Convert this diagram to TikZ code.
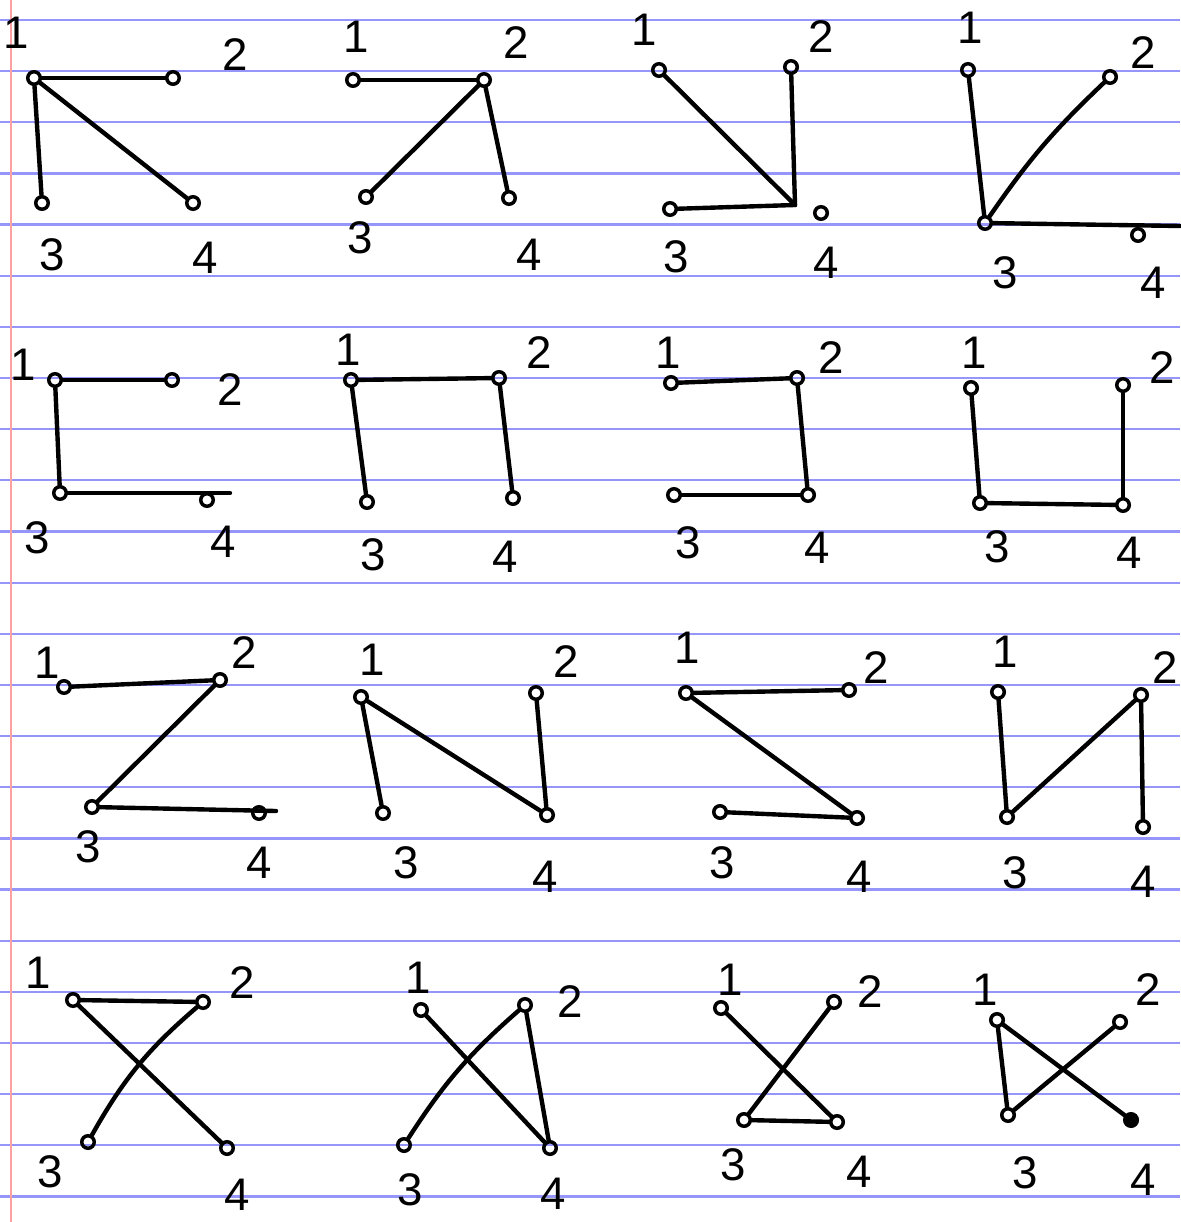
\documentclass[tikz,border=0pt]{standalone}
\usepackage{fontspec}
\setmainfont{Liberation Sans}
\definecolor{ruleblue}{RGB}{150,150,250}
\definecolor{marginred}{RGB}{255,160,160}
\begin{document}
\begin{tikzpicture}[
  x=0.02cm, y=-0.02cm,
  vert/.style={draw, circle, line width=2pt, inner sep=0pt, minimum size=0.25cm},
  num/.style={font=\fontsize{26}{28}\selectfont, inner sep=0pt},
  edge/.style={line width=2.5pt, line cap=round},
  rule/.style={draw=ruleblue, line width=1.3pt}
]
\fill[white] (0,0) rectangle (1180,1222);
\useasboundingbox (0,0) rectangle (1180,1222);
\foreach \k in {0,...,23}
  \draw[rule] (0,{20+51.15*\k}) -- (1180,{20+51.15*\k});
\draw[marginred, line width=1.3pt] (11,0) -- (11,1222);

\node[vert] (a1) at (34,78) {};
\node[vert] (a2) at (173,78) {};
\node[vert] (a3) at (42,203) {};
\node[vert] (a4) at (193,203) {};
\node[num] (la1) at (16,33) {1};
\node[num] (la2) at (235,55) {2};
\node[num] (la3) at (52,255) {3};
\node[num] (la4) at (205,258) {4};
\draw[edge] (a1) -- (a2);
\draw[edge] (a1) -- (a3);
\draw[edge] (a1) -- (a4);

\node[vert] (b1) at (353,80) {};
\node[vert] (b2) at (484,80) {};
\node[vert] (b3) at (366,197) {};
\node[vert] (b4) at (509,198) {};
\node[num] (lb1) at (356,37) {1};
\node[num] (lb2) at (516,43) {2};
\node[num] (lb3) at (360,238) {3};
\node[num] (lb4) at (529,255) {4};
\draw[edge] (b1) -- (b2);
\draw[edge] (b2) -- (b3);
\draw[edge] (b2) -- (b4);

\node[vert] (c1) at (659,70) {};
\node[vert] (c2) at (791,67) {};
\node[vert] (c3) at (670,209) {};
\node[vert] (c4) at (821,213) {};
\coordinate (cj) at (795,205);
\node[num] (lc1) at (644,30) {1};
\node[num] (lc2) at (821,37) {2};
\node[num] (lc3) at (676,257) {3};
\node[num] (lc4) at (826,263) {4};
\draw[edge] (c1) -- (cj);
\draw[edge] (c2) -- (cj);
\draw[edge] (c3) -- (cj);

\node[vert] (d1) at (968,70) {};
\node[vert] (d2) at (1110,77) {};
\node[vert] (d3) at (985,223) {};
\node[vert] (d4) at (1138,235) {};
\coordinate (dr) at (1180,226);
\node[num] (ld1) at (970,28) {1};
\node[num] (ld2) at (1143,53) {2};
\node[num] (ld3) at (1005,273) {3};
\node[num] (ld4) at (1153,283) {4};
\draw[edge] (d1) -- (d3);
\draw[edge] (d2) to[bend right=6] (d3);
\draw[edge] (d3) -- (dr);

\node[vert] (e1) at (55,380) {};
\node[vert] (e2) at (172,380) {};
\node[vert] (e3) at (60,493) {};
\node[vert] (e4) at (207,500) {};
\coordinate (ex) at (230,493);
\node[num] (le1) at (23,365) {1};
\node[num] (le2) at (230,390) {2};
\node[num] (le3) at (37,538) {3};
\node[num] (le4) at (223,542) {4};
\draw[edge] (e1) -- (e2);
\draw[edge] (e1) -- (e3);
\draw[edge] (e3) -- (ex);

\node[vert] (f1) at (351,380) {};
\node[vert] (f2) at (499,378) {};
\node[vert] (f3) at (367,502) {};
\node[vert] (f4) at (513,498) {};
\node[num] (lf1) at (348,350) {1};
\node[num] (lf2) at (539,353) {2};
\node[num] (lf3) at (373,555) {3};
\node[num] (lf4) at (505,557) {4};
\draw[edge] (f1) -- (f2);
\draw[edge] (f1) -- (f3);
\draw[edge] (f2) -- (f4);

\node[vert] (g1) at (671,383) {};
\node[vert] (g2) at (797,378) {};
\node[vert] (g3) at (674,495) {};
\node[vert] (g4) at (808,495) {};
\node[num] (lg1) at (668,353) {1};
\node[num] (lg2) at (831,358) {2};
\node[num] (lg3) at (688,543) {3};
\node[num] (lg4) at (817,548) {4};
\draw[edge] (g1) -- (g2);
\draw[edge] (g2) -- (g4);
\draw[edge] (g3) -- (g4);

\node[vert] (h1) at (971,388) {};
\node[vert] (h2) at (1123,385) {};
\node[vert] (h3) at (980,503) {};
\node[vert] (h4) at (1123,505) {};
\node[num] (lh1) at (974,353) {1};
\node[num] (lh2) at (1162,368) {2};
\node[num] (lh3) at (997,547) {3};
\node[num] (lh4) at (1129,553) {4};
\draw[edge] (h1) -- (h3);
\draw[edge] (h3) -- (h4);
\draw[edge] (h2) -- (h4);

\node[vert] (i1) at (64,687) {};
\node[vert] (i2) at (220,680) {};
\node[vert] (i3) at (92,807) {};
\node[vert] (i4) at (259,813) {};
\coordinate (ix) at (276,811);
\node[num] (li1) at (47,663) {1};
\node[num] (li2) at (244,653) {2};
\node[num] (li3) at (88,847) {3};
\node[num] (li4) at (259,863) {4};
\draw[edge] (i1) -- (i2);
\draw[edge] (i2) -- (i3);
\draw[edge] (i3) -- (ix);

\node[vert] (j1) at (361,697) {};
\node[vert] (j2) at (536,693) {};
\node[vert] (j3) at (383,813) {};
\node[vert] (j4) at (547,815) {};
\node[num] (lj1) at (372,660) {1};
\node[num] (lj2) at (566,662) {2};
\node[num] (lj3) at (406,863) {3};
\node[num] (lj4) at (545,877) {4};
\draw[edge] (j1) -- (j3);
\draw[edge] (j1) -- (j4);
\draw[edge] (j2) -- (j4);

\node[vert] (k1) at (686,693) {};
\node[vert] (k2) at (849,690) {};
\node[vert] (k3) at (720,812) {};
\node[vert] (k4) at (857,818) {};
\node[num] (lk1) at (687,648) {1};
\node[num] (lk2) at (876,668) {2};
\node[num] (lk3) at (722,863) {3};
\node[num] (lk4) at (859,877) {4};
\draw[edge] (k1) -- (k2);
\draw[edge] (k1) -- (k4);
\draw[edge] (k3) -- (k4);

\node[vert] (l1) at (998,692) {};
\node[vert] (l2) at (1141,695) {};
\node[vert] (l3) at (1007,817) {};
\node[vert] (l4) at (1143,827) {};
\node[num] (ll1) at (1005,652) {1};
\node[num] (ll2) at (1165,668) {2};
\node[num] (ll3) at (1015,873) {3};
\node[num] (ll4) at (1143,882) {4};
\draw[edge] (l1) -- (l3);
\draw[edge] (l2) -- (l3);
\draw[edge] (l2) -- (l4);

\node[vert] (m1) at (73,1000) {};
\node[vert] (m2) at (203,1002) {};
\node[vert] (m3) at (88,1142) {};
\node[vert] (m4) at (227,1148) {};
\node[num] (lm1) at (38,973) {1};
\node[num] (lm2) at (242,983) {2};
\node[num] (lm3) at (50,1172) {3};
\node[num] (lm4) at (237,1195) {4};
\draw[edge] (m1) -- (m2);
\draw[edge] (m1) -- (m4);
\draw[edge] (m2) to[bend right=10] (m3);

\node[vert] (n1) at (421,1010) {};
\node[vert] (n2) at (525,1005) {};
\node[vert] (n3) at (404,1145) {};
\node[vert] (n4) at (550,1148) {};
\node[num] (ln1) at (418,978) {1};
\node[num] (ln2) at (570,1002) {2};
\node[num] (ln3) at (410,1190) {3};
\node[num] (ln4) at (553,1194) {4};
\draw[edge] (n1) -- (n4);
\draw[edge] (n2) to[bend right=8] (n3);
\draw[edge] (n2) -- (n4);

\node[vert] (o1) at (721,1008) {};
\node[vert] (o2) at (834,1002) {};
\node[vert] (o3) at (744,1120) {};
\node[vert] (o4) at (837,1122) {};
\node[num] (lo1) at (730,980) {1};
\node[num] (lo2) at (870,992) {2};
\node[num] (lo3) at (733,1165) {3};
\node[num] (lo4) at (859,1172) {4};
\draw[edge] (o1) -- (o4);
\draw[edge] (o2) -- (o3);
\draw[edge] (o3) -- (o4);

\node[vert] (p1) at (997,1020) {};
\node[vert] (p2) at (1120,1022) {};
\node[vert] (p3) at (1008,1115) {};
\node[vert, fill] (p4) at (1131,1120) {};
\node[num] (lp1) at (985,990) {1};
\node[num] (lp2) at (1148,990) {2};
\node[num] (lp3) at (1025,1173) {3};
\node[num] (lp4) at (1143,1180) {4};
\draw[edge] (p1) -- (p3);
\draw[edge] (p1) -- (p4);
\draw[edge] (p2) -- (p3);
\end{tikzpicture}
\end{document}
